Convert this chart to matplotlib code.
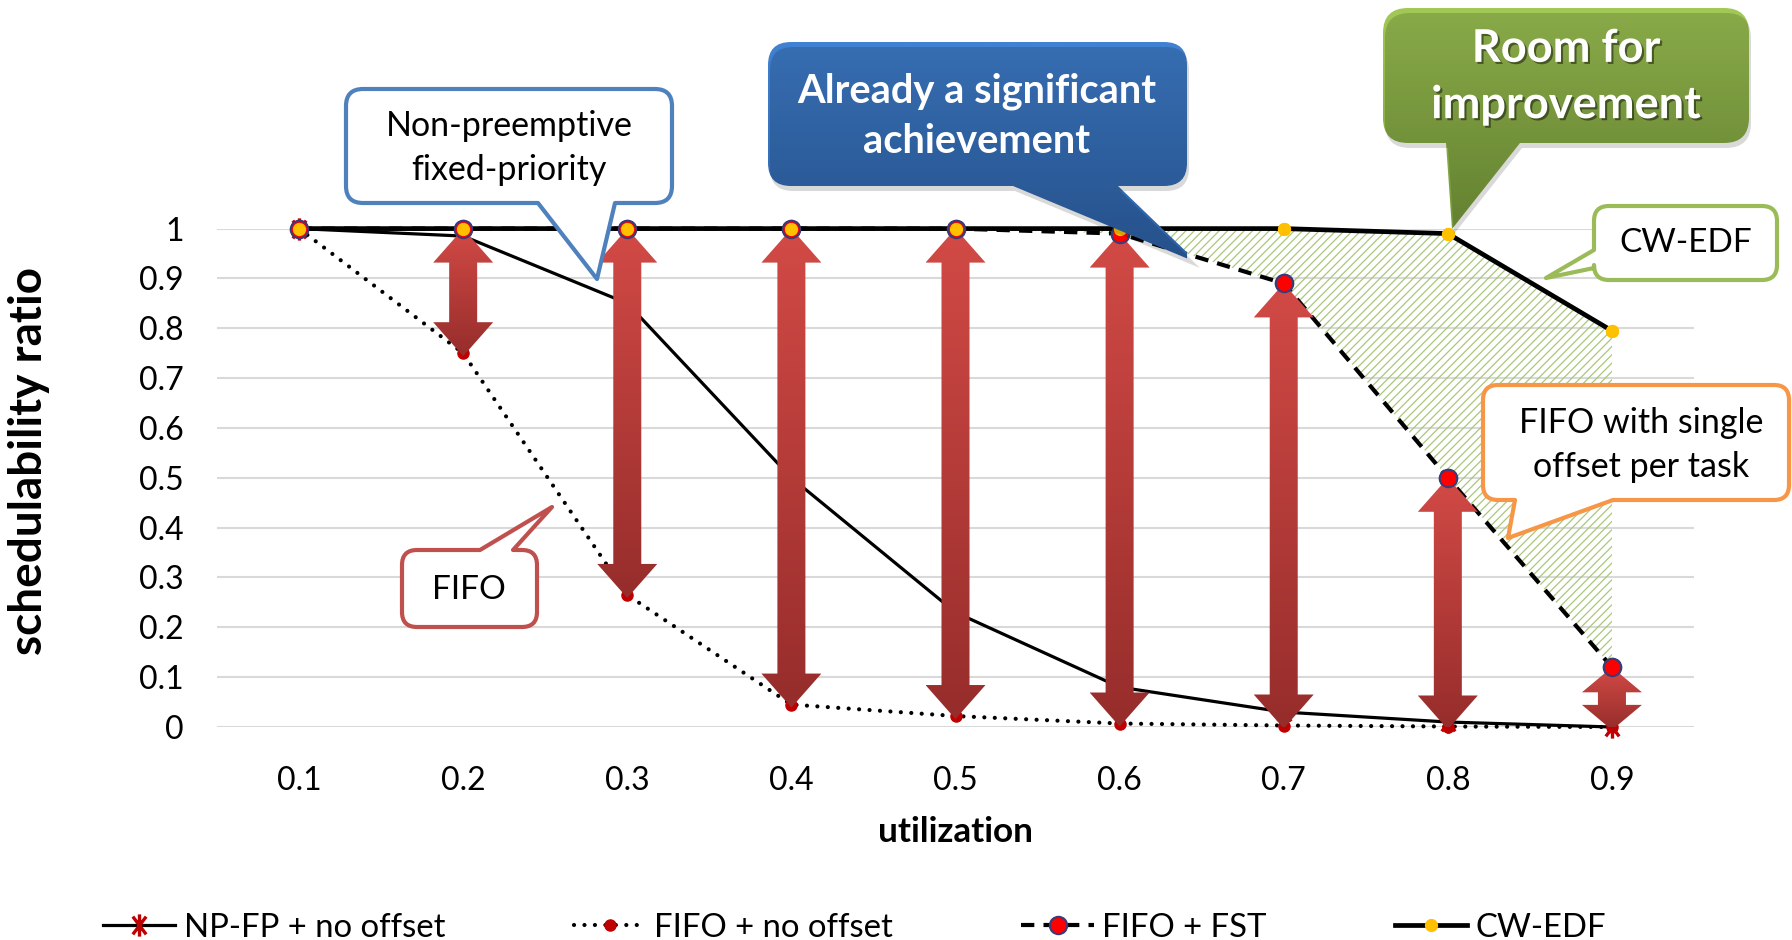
import numpy as np
import matplotlib
matplotlib.use("Agg")
import matplotlib.pyplot as plt
import matplotlib.patheffects as pe
from matplotlib.path import Path
from matplotlib.patches import PathPatch, Polygon
from matplotlib.transforms import Affine2D
from matplotlib.colors import to_rgb

plt.rcParams['font.family'] = ['Lato', 'DejaVu Sans']
plt.rcParams['hatch.linewidth'] = 0.9

# schedulability ratio per utilization
utilization = ['0.1', '0.2', '0.3', '0.4', '0.5', '0.6', '0.7', '0.8', '0.9']
np_fp = [1.0, 0.985, 0.85, 0.50, 0.23, 0.08, 0.03, 0.01, 0.0]
fifo = [1.0, 0.75, 0.265, 0.045, 0.022, 0.007, 0.003, 0.001, 0.0]
fifo_fst = [1.0, 1.0, 1.0, 1.0, 1.0, 0.99, 0.89, 0.50, 0.12]
cw_edf = [1.0, 1.0, 1.0, 1.0, 1.0, 1.0, 1.0, 0.99, 0.795]
series_names = ['NP-FP + no offset', 'FIFO + no offset', 'FIFO + FST', 'CW-EDF']
y_ticks = [0, 0.1, 0.2, 0.3, 0.4, 0.5, 0.6, 0.7, 0.8, 0.9, 1.0]
y_tick_labels = ['0', '0.1', '0.2', '0.3', '0.4', '0.5', '0.6', '0.7', '0.8', '0.9', '1']

W, H = 1792, 940
fig = plt.figure(figsize=(W / 100, H / 100), dpi=100)
ax = fig.add_axes([217 / W, 1 - 727 / H, (1694 - 217) / W, (727 - 228.6) / H])
ax.set_autoscale_on(False)
x = np.arange(len(utilization))
ax.set_xlim(-0.5, len(utilization) - 0.5)
ax.set_ylim(0, 1)

ax.set_xticks(x, utilization)
ax.set_yticks(y_ticks, y_tick_labels)
ax.tick_params(length=0, labelsize=23)
ax.tick_params(axis='y', pad=24)
ax.tick_params(axis='x', pad=28)
ax.grid(axis='y', color='#d9d9d9', lw=1.5)
ax.set_axisbelow(True)
for s in ax.spines.values():
    s.set_visible(False)
ax.set_ylabel('schedulability ratio', fontsize=33, fontweight='bold')
ax.yaxis.set_label_coords(-0.113, 0.534)
ax.set_xlabel('utilization', fontsize=25.3, fontweight='bold')
ax.xaxis.set_label_coords(0.5, -0.178)

# excel-like star marker: vertical bar plus an x
star = Path([(0, -1), (0, 1), (-0.6, -0.8), (0.6, 0.8), (-0.6, 0.8), (0.6, -0.8)],
            [Path.MOVETO, Path.LINETO] * 3)

# gap between FIFO+FST and CW-EDF
ax.fill_between(x[4:], fifo_fst[4:], cw_edf[4:], facecolor='none', edgecolor='#a9c77a',
                hatch='////', linewidth=0, zorder=1)

l1, = ax.plot(x, np_fp, color='black', lw=2.3, marker=star, ms=16, mfc='none',
              mec='#c00000', mew=2.4, zorder=3, clip_on=False)
l2, = ax.plot(x, fifo, color='black', lw=3, ls=(0, (0.01, 2.5)), dash_capstyle='round',
              marker='o', ms=8, mfc='#c00000', mec='#c00000', zorder=3, clip_on=False)
l3, = ax.plot(x, fifo_fst, color='black', lw=3, ls=(0, (3.2, 2.2)), marker='o', ms=12.5,
              mfc='#ff0000', mec='#3b3b78', mew=1.5, zorder=3, clip_on=False)
l4, = ax.plot(x, cw_edf, color='black', lw=3.4, marker='o', ms=8.5, mfc='#ffc000',
              mec='#ffc000', zorder=3, clip_on=False)


def gradient(c_top, c_bot, n=128):
    t = np.linspace(0, 1, n)[:, None, None]
    return (1 - t) * np.array(to_rgb(c_top)) + t * np.array(to_rgb(c_bot))


def double_arrow(xi, top, bottom, shaft=28, head_w=60, head_len=34, overshoot=3):
    xp, yt = ax.transData.transform((xi, top))
    _, yb = ax.transData.transform((xi, bottom))
    yb -= overshoot
    hl = min(head_len, 0.4 * (yt - yb))
    hw, sw = head_w / 2, shaft / 2
    pts = [(xp, yt), (xp + hw, yt - hl), (xp + sw, yt - hl), (xp + sw, yb + hl),
           (xp + hw, yb + hl), (xp, yb), (xp - hw, yb + hl), (xp - sw, yb + hl),
           (xp - sw, yt - hl), (xp - hw, yt - hl)]
    pts = ax.transData.inverted().transform(pts)
    poly = Polygon(pts, closed=True, fc='none', ec='none', zorder=4)
    ax.add_patch(poly)
    im = ax.imshow(gradient('#d24a46', '#962d2b'), origin='upper', aspect='auto',
                   extent=(pts[:, 0].min(), pts[:, 0].max(), pts[:, 1].min(), pts[:, 1].max()),
                   interpolation='bilinear', zorder=4)
    im.set_clip_path(poly)


# gain of FIFO+FST over plain FIFO
for i in x[1:]:
    double_arrow(i, fifo_fst[i], fifo[i])

ax.plot(x, fifo_fst, ls='none', marker='o', ms=12.5, mfc='#ff0000', mec='#3b3b78',
        mew=1.5, zorder=5, clip_on=False)
ax.plot(x, cw_edf, ls='none', marker='o', ms=8.5, mfc='#ffc000', mec='#ffc000',
        zorder=6, clip_on=False)
ax.set_xlim(-0.5, len(utilization) - 0.5)
ax.set_ylim(0, 1)

fig.legend([l1, l2, l3, l4], series_names, loc='center left', bbox_to_anchor=(103 / W, 1 - 928 / H),
           ncol=4, frameon=False, fontsize=23.7, handlelength=2.2, handletextpad=0.25,
           columnspacing=3.9, borderpad=0, borderaxespad=0)

# speech bubbles, drawn on a pixel-space overlay (y pointing down)
ov = fig.add_axes([0, 0, 1, 1], zorder=5)
ov.set_autoscale_on(False)
ov.set_xlim(0, W)
ov.set_ylim(H, 0)
ov.axis('off')


def bubble(box, r, side, base, tip):
    x0, y0, x1, y1 = box
    v, c = [(x0 + r, y0)], [Path.MOVETO]

    def ln(p):
        v.append(p)
        c.append(Path.LINETO)

    def cv(ctrl, p):
        v.extend([ctrl, p])
        c.extend([Path.CURVE3, Path.CURVE3])

    if side == 'top':
        ln((base[0], y0)); ln(tip); ln((base[1], y0))
    ln((x1 - r, y0)); cv((x1, y0), (x1, y0 + r))
    ln((x1, y1 - r)); cv((x1, y1), (x1 - r, y1))
    if side == 'bottom':
        ln((base[1], y1)); ln(tip); ln((base[0], y1))
    ln((x0 + r, y1)); cv((x0, y1), (x0, y1 - r))
    if side == 'left':
        ln((x0, base[1])); ln(tip); ln((x0, base[0]))
    ln((x0, y0 + r)); cv((x0, y0), (x0 + r, y0))
    v.append((x0 + r, y0))
    c.append(Path.CLOSEPOLY)
    return Path(v, c)


def outlined(box, r, side, base, tip, edge):
    ov.add_patch(PathPatch(bubble(box, r, side, base, tip), fc='white', ec=edge, lw=3,
                           joinstyle='round'))


def filled(box, r, side, base, tip, c_top, c_bot):
    path = bubble(box, r, side, base, tip)
    ov.add_patch(PathPatch(path.transformed(Affine2D().translate(2, 5)), fc='black',
                           ec='none', alpha=0.15))
    patch = PathPatch(path, fc='none', ec='none')
    ov.add_patch(patch)
    ys = path.vertices[:, 1]
    im = ov.imshow(gradient(c_top, c_bot), origin='upper', aspect='auto',
                   extent=(box[0], box[2], ys.max(), ys.min()), interpolation='bilinear')
    im.set_clip_path(patch)


outlined((346, 89, 672, 203), 17, 'bottom', (538, 615), (597, 279), '#4f81bd')
ov.text(509, 148, 'Non-preemptive\nfixed-priority', ha='center', va='center', fontsize=24.5,
        linespacing=1.45)

filled((768, 42, 1187, 186), 23, 'bottom', (1013, 1118), (1198, 263), '#4182d2', '#2c5fa3')
ov.text(977, 116, 'Already a significant\nachievement', ha='center', va='center', fontsize=28.7,
        fontweight='bold', color='white', linespacing=1.45)

filled((1383, 8, 1749, 143), 25, 'bottom', (1446, 1520), (1452, 229), '#a2c956', '#76993a')
ov.text(1566, 77, 'Room for\nimprovement', ha='center', va='center', fontsize=32.5,
        fontweight='bold', color='white', linespacing=1.42,
        path_effects=[pe.withSimplePatchShadow(offset=(1.5, -1.5), shadow_rgbFace='black', alpha=0.45)])

outlined((1594, 206, 1777, 280), 15, 'left', (250, 268), (1546, 278), '#9bbb59')
ov.text(1686, 243, 'CW-EDF', ha='center', va='center', fontsize=24)

outlined((1483, 385, 1789, 500), 15, 'bottom', (1515, 1613), (1508, 538), '#f79646')
ov.text(1641, 445, 'FIFO with single\noffset per task', ha='center', va='center', fontsize=24.5,
        linespacing=1.45)

outlined((402, 550, 537, 627), 15, 'top', (480, 513), (552, 507), '#c0504d')
ov.text(469, 590, 'FIFO', ha='center', va='center', fontsize=24)

fig.savefig('out.png', dpi=100)
